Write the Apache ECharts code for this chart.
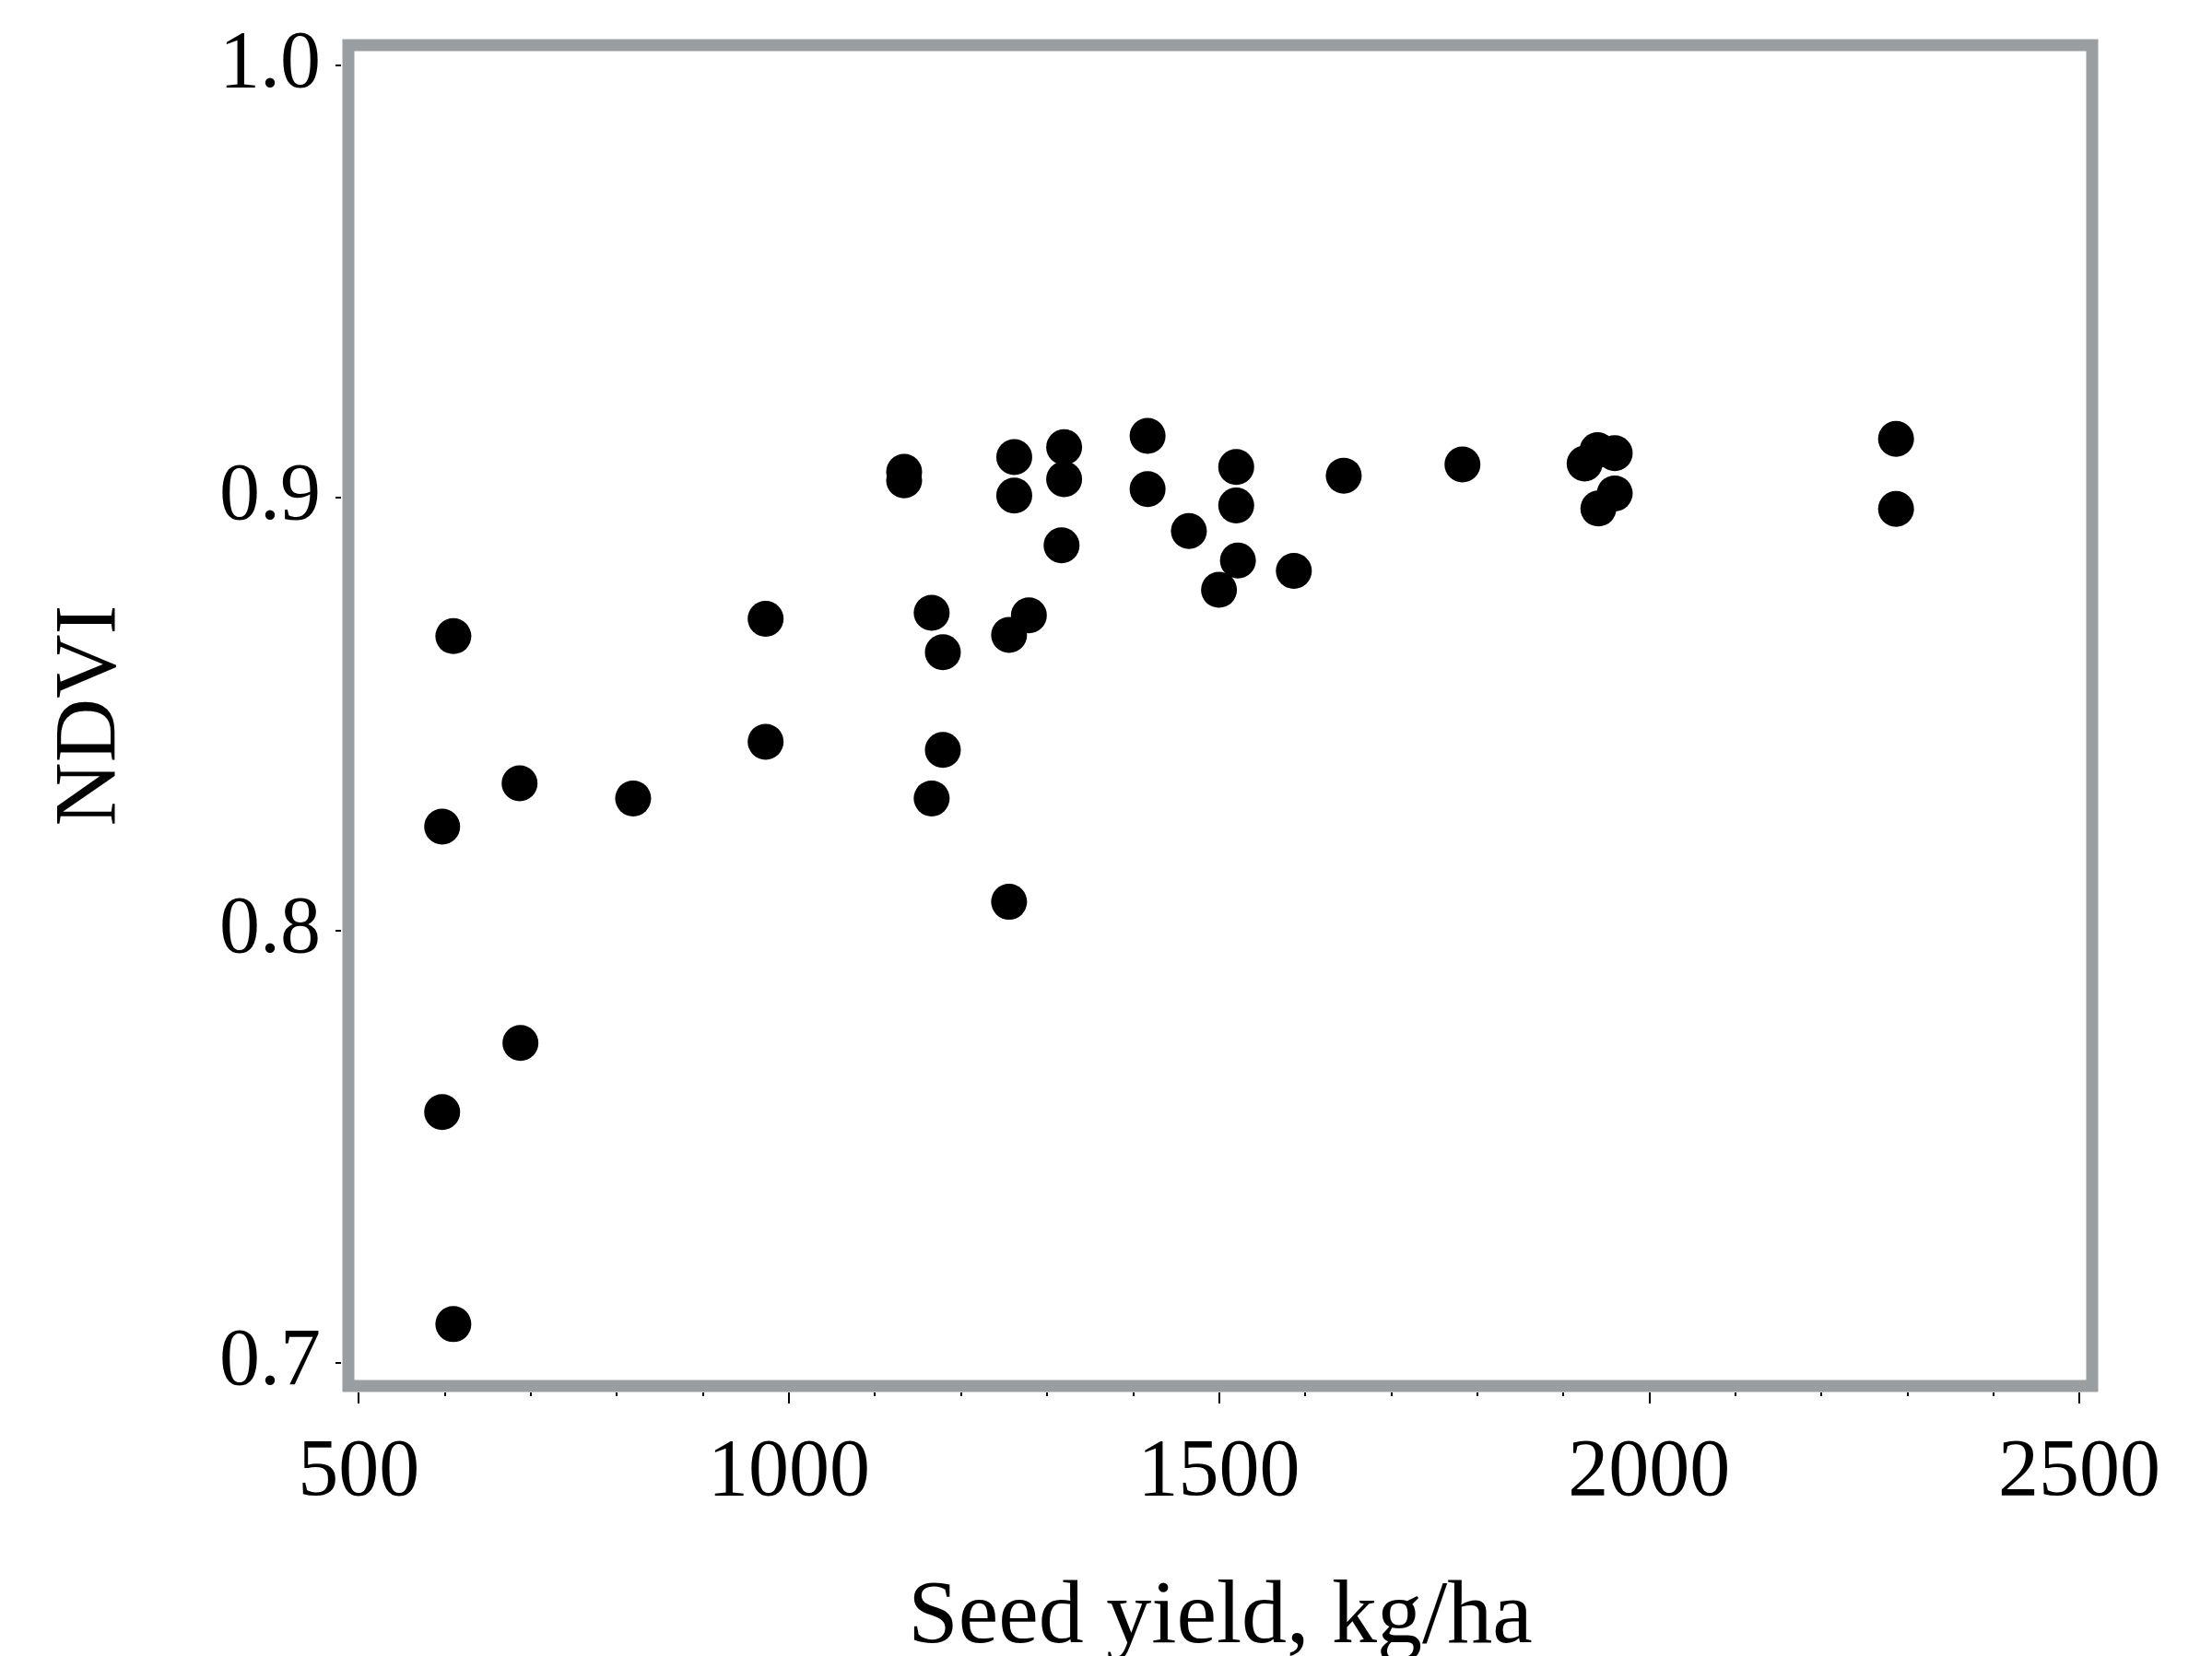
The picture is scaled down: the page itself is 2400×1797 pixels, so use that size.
<!DOCTYPE html>
<html>
<head>
<meta charset="utf-8">
<script src="https://cdn.jsdelivr.net/npm/echarts@6/dist/echarts.min.js"></script>
<style>
html,body{margin:0;padding:0;background:#fff;}
#chart{width:2400px;height:1797px;}
</style>
</head>
<body>
<div id="chart"></div>
<script>
// Seed yield (kg/ha) and NDVI
const seedYield = [610, 597, 687, 597, 688, 610, 819, 973, 973, 1134,
  1134, 1166, 1179, 1179, 1166, 1256, 1256, 1279, 1262, 1262,
  1320, 1320, 1317, 1417, 1417, 1465, 1520, 1520, 1522, 1500,
  1587, 1645, 1783, 1925, 1940, 1960, 1960, 1941, 2287, 2287];
const ndvi = [0.868, 0.824, 0.834, 0.758, 0.774, 0.709, 0.8305, 0.872, 0.8436, 0.906,
  0.904, 0.8734, 0.8643, 0.8417, 0.8305, 0.8066, 0.8683, 0.8728, 0.9094, 0.9005,
  0.9117, 0.9043, 0.889, 0.9143, 0.902, 0.8923, 0.9071, 0.8982, 0.8855, 0.8787,
  0.8831, 0.9051, 0.9077, 0.9079, 0.911, 0.9103, 0.901, 0.8975, 0.9136, 0.8974];
const xMajorTicks = [500, 1000, 1500, 2000, 2500];
const xMinorTicks = [500, 600, 700, 800, 900, 1000, 1100, 1200, 1300, 1400, 1500,
  1600, 1700, 1800, 1900, 2000, 2100, 2200, 2300, 2400, 2500];
const yTicks = [0.7, 0.8, 0.9, 1.0];
const xTitle = 'Seed yield, kg/ha';
const yTitle = 'NDVI';

const points = seedYield.map((v, i) => [v, ndvi[i]]);
const FONT = '"Liberation Serif", "DejaVu Serif", serif';
const XMIN = 488, XMAX = 2515, YMIN = 0.6947, YMAX = 1.0046;

const chart = echarts.init(document.getElementById('chart'), null, {renderer: 'canvas'});
chart.setOption({
  animation: false,
  backgroundColor: '#ffffff',
  grid: {
    left: 378, top: 49, width: 1892, height: 1455,
    containLabel: false, outerBoundsMode: 'none',
    show: true, borderColor: '#9a9ea1', borderWidth: 13, backgroundColor: 'transparent'
  },
  xAxis: [
    {
      type: 'value', min: XMIN, max: XMAX, position: 'bottom', offset: 7,
      axisLine: {show: false},
      splitLine: {show: false},
      axisTick: {show: true, length: 4, customValues: xMinorTicks, lineStyle: {color: '#000', width: 2}},
      axisLabel: {show: false}
    },
    {
      type: 'value', min: XMIN, max: XMAX, position: 'bottom', offset: 7,
      axisLine: {show: false},
      splitLine: {show: false},
      axisTick: {show: true, length: 12, customValues: xMajorTicks, lineStyle: {color: '#000', width: 2}},
      axisLabel: {show: true, customValues: xMajorTicks, margin: 44, color: '#000',
        fontFamily: FONT, fontSize: 88, formatter: v => String(Math.round(v))},
      name: xTitle, nameLocation: 'middle', nameGap: 196,
      nameTextStyle: {color: '#000', fontFamily: FONT, fontSize: 98}
    }
  ],
  yAxis: {
    type: 'value', min: YMIN, max: YMAX, position: 'left', offset: 8,
    axisLine: {show: false},
    splitLine: {show: false},
    axisTick: {show: true, length: 6, customValues: yTicks, lineStyle: {color: '#000', width: 2}},
    axisLabel: {show: true, customValues: yTicks, margin: 22, color: '#000',
      fontFamily: FONT, fontSize: 88, formatter: v => v.toFixed(1)},
    name: yTitle, nameLocation: 'middle', nameGap: 222, nameRotate: 90,
    nameTextStyle: {color: '#000', fontFamily: FONT, fontSize: 96}
  },
  series: [{
    type: 'scatter', xAxisIndex: 0, yAxisIndex: 0,
    data: points, symbol: 'circle', symbolSize: 39,
    itemStyle: {color: '#000', opacity: 1}
  }]
});
</script>
</body>
</html>
